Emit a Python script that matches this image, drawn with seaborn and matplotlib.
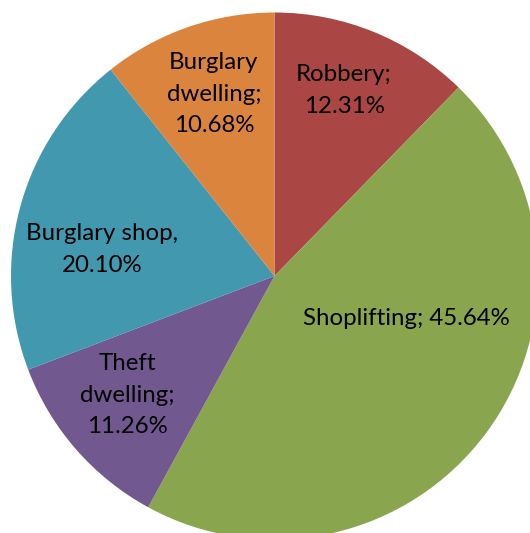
import matplotlib
matplotlib.use("Agg")
import matplotlib.pyplot as plt
import seaborn as sns

# Share of offences by type (percent)
categories = ["Robbery", "Shoplifting", "Theft dwelling", "Burglary shop", "Burglary dwelling"]
shares = [12.31, 45.64, 11.26, 20.10, 10.68]
label_texts = [
    "Robbery;\n12.31%",
    "Shoplifting; 45.64%",
    "Theft\ndwelling;\n11.26%",
    "Burglary shop,\n20.10%",
    "Burglary\ndwelling;\n10.68%",
]

# Slice colours and label anchors (in units of the pie radius)
slice_colors = ["#AA4643", "#89A54E", "#71588F", "#4198AF", "#DB843D"]
label_xy = [(0.264, 0.705), (0.501, -0.160), (-0.560, -0.452), (-0.655, 0.100), (-0.230, 0.690)]

sns.set_theme(style="white")
plt.rcParams["font.family"] = ["Lato", "DejaVu Sans"]

W, H, DPI = 530, 533, 100
fig = plt.figure(figsize=(W / DPI, H / DPI), dpi=DPI)
ax = fig.add_axes([0, 0, 1, 1])

ax.pie(
    shares,
    colors=sns.color_palette(slice_colors),
    startangle=90,
    counterclock=False,
    radius=1.0,
    wedgeprops=dict(linewidth=0),
)

for text, (x, y) in zip(label_texts, label_xy):
    ax.text(x, y, text, ha="center", va="center", fontsize=17.3,
            color="black", linespacing=1.62, multialignment="center")

# Pixel frame: pie centre at (274.5, 276) px from top-left, radius 263.5 px
r_px, cx, cy = 263.5, 274.5, 276.0
ax.set_xlim(-cx / r_px, (W - cx) / r_px)
ax.set_ylim(-(H - cy) / r_px, cy / r_px)
ax.set_aspect("auto")
ax.axis("off")

fig.savefig("out.png", dpi=DPI, facecolor="white")
